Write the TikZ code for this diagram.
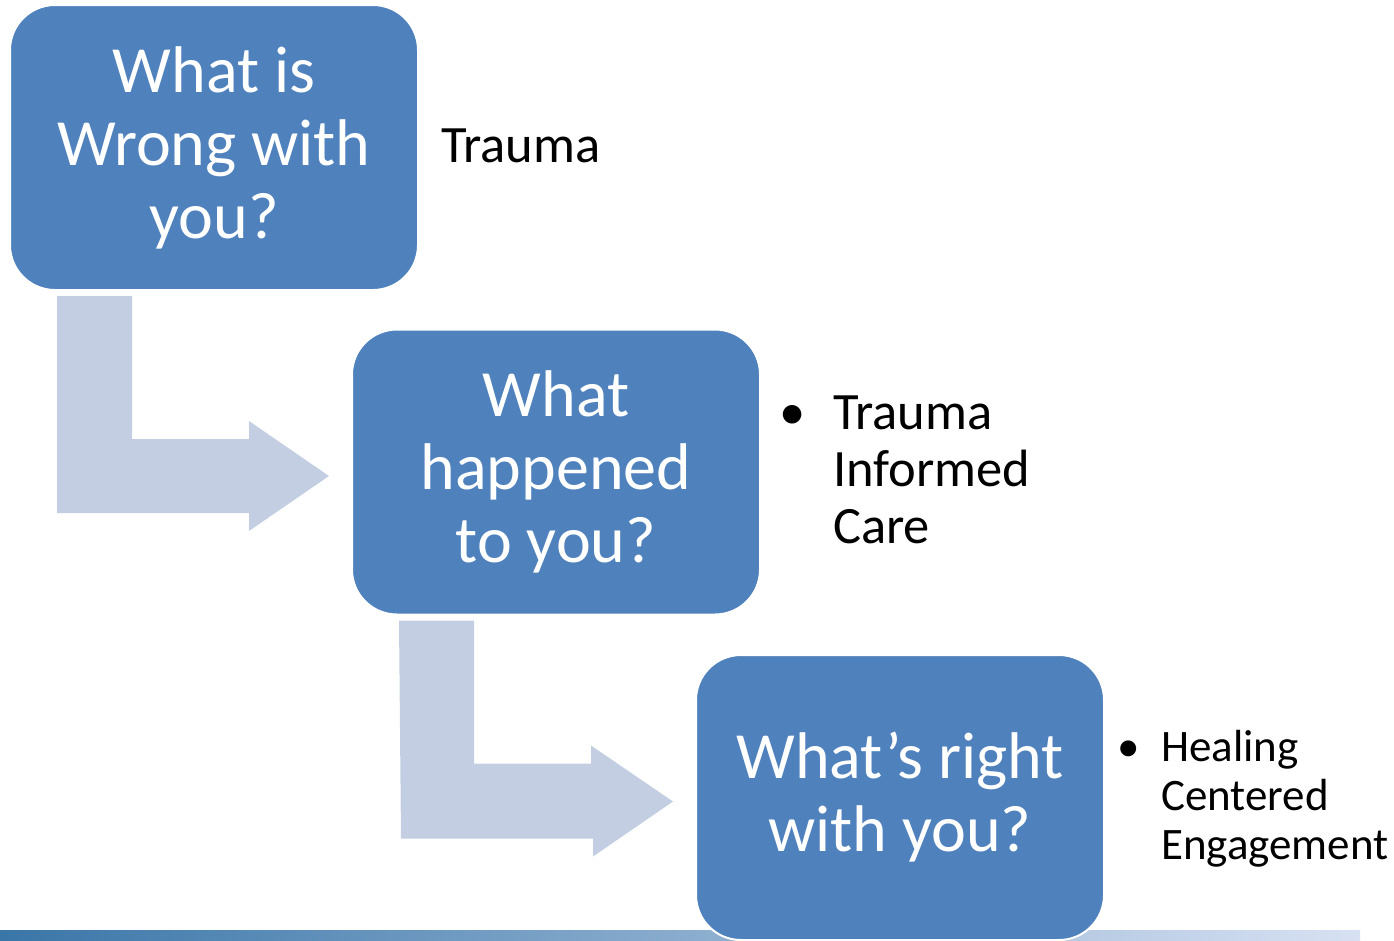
\documentclass[tikz,border=0pt]{standalone}
\usepackage{fontspec}
\setmainfont{Carlito}
\usetikzlibrary{calc}

\definecolor{boxblue}{HTML}{4F81BD}
\definecolor{arrowblue}{HTML}{C3CEE2}
\definecolor{bardark}{HTML}{3A76A8}
\definecolor{barlight}{HTML}{D8E1F3}

\begin{document}
\begin{tikzpicture}[x=1pt, y=-1pt]

    % Styles
    \tikzstyle{question} = [rectangle, rounded corners=45pt, fill=boxblue, draw=white, line width=2pt,
                            minimum width=408pt, minimum height=285pt, text=white, align=center,
                            font=\fontsize{66}{73}\selectfont]
    \tikzstyle{answer} = [inner sep=0pt, align=left, text=black]
    \tikzstyle{bentarrow} = [fill=arrowblue]

    \useasboundingbox (0,0) rectangle (1394,940);

    % Bottom bar
    \shade[left color=bardark, right color=barlight] (0,930) rectangle (1360,940);

    % Question boxes
    \node[question] (Q1) at (214,147.5) {What is\\Wrong with\\you?};
    \node[question] (Q2) at (556,472) {What\\happened\\to you?};
    \node[question] (Q3) at (900,797.5) {What’s right\\with you?};

    % Answers (base anchor sits on the last line)
    \node[answer, anchor=base west, font=\fontsize{52.5}{57}\selectfont] (A1) at (441,162) {Trauma};
    \node[answer, anchor=base west, font=\fontsize{52.5}{57}\selectfont] (A2) at (833,543)
        {\llap{•\hspace{28pt}}Trauma\\Informed\\Care};
    \node[answer, anchor=base west, font=\fontsize{45}{49}\selectfont] (A3) at (1161,859)
        {\llap{•\hspace{21pt}}Healing\\Centered\\Engagement};

    % Bent arrows between the boxes
    \foreach \a/\b in {Q1/Q2, Q2/Q3}
        \fill[bentarrow] ($(\a.south west)+(48,5)$) -- ++(75,0) -- ++(0,143) -- ++(117,0) -- ++(0,-18)
            -- ($(\b.west)+(-22,4)$) -- ++(-80,55) -- ++(0,-18) -- ++(-192,0) -- cycle;

\end{tikzpicture}
\end{document}
